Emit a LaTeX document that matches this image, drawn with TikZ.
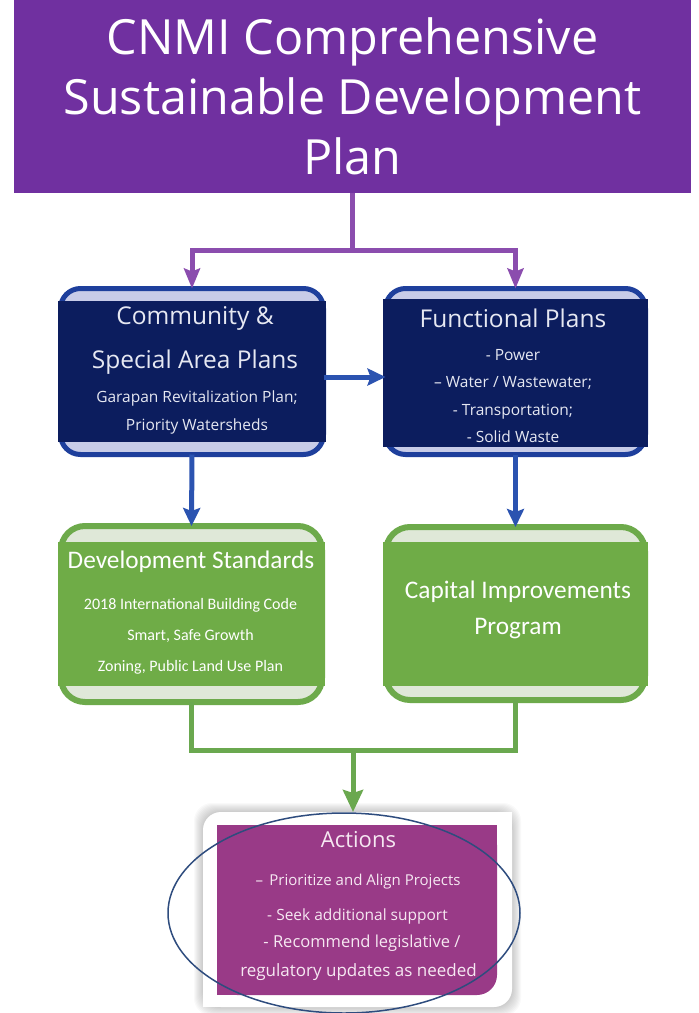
\documentclass[tikz,border=0pt]{standalone}
\usepackage{fontspec}
\setmainfont{Open Sans}
\newfontfamily\carl{Carlito}
\usetikzlibrary{arrows.meta,shapes.geometric}
\definecolor{titlepurple}{HTML}{7030A0}
\definecolor{connpurple}{HTML}{8B4DAE}
\definecolor{bluebord}{HTML}{1E3F9C}
\definecolor{navyfill}{HTML}{0C1D5E}
\definecolor{lavband}{HTML}{C8CCE8}
\definecolor{bluearrow}{HTML}{2B53B0}
\definecolor{greenbord}{HTML}{6DAA4B}
\definecolor{greenfill}{HTML}{6FAC47}
\definecolor{greenband}{HTML}{DFE8D8}
\definecolor{greenconn}{HTML}{6AA84F}
\definecolor{actpurple}{HTML}{993A87}
\definecolor{ellcol}{HTML}{2E4C7E}
\definecolor{bluetext}{HTML}{E6E8F2}
\definecolor{acttext}{HTML}{F6E8F2}
\begin{document}
\begin{tikzpicture}[x=1pt,y=-1pt,
  every node/.style={inner sep=0pt,outer sep=0pt},
  purp/.style={draw=connpurple,line width=5pt,line join=miter},
  purptip/.style={-{Stealth[length=20pt,width=16pt,inset=3pt]}},
  bluearr/.style={draw=bluearrow,line width=5pt,-{Stealth[length=18pt,width=17pt,inset=3pt]}},
  grn/.style={draw=greenconn,line width=5pt,line join=miter},
  grntip/.style={-{Stealth[length=22pt,width=20pt,inset=3pt]}},
  bluebox/.style={draw=bluebord,line width=5pt,fill=lavband,rounded corners=20pt},
  greenbox/.style={draw=greenbord,line width=6pt,fill=greenband,rounded corners=24pt},
  bhead/.style={text=bluetext,align=center,font=\fontsize{24.5}{44}\selectfont},
  bsub/.style={text=bluetext,align=center,font=\fontsize{15.5}{27.3}\selectfont},
  ghead/.style={text=white,align=center,font=\carl\fontsize{25.3}{36}\selectfont},
  gsub/.style={text=white,align=center,font=\carl\fontsize{16}{31}\selectfont},
  atext/.style={text=acttext,align=center}
]
\useasboundingbox (0,0) rectangle (699,1013);

% title
\node[fill=titlepurple,minimum width=677pt,minimum height=193pt,text=white,align=center,
  font=\fontsize{48.5}{60}\selectfont] (title) at (352.5,96.5)
  {CNMI Comprehensive\\Sustainable Development\\Plan};

% blue boxes
\node[bluebox,minimum width=263pt,minimum height=166pt] (csp) at (192,371.5) {};
\fill[navyfill] ([xshift=-2.5pt,yshift=-12.5pt]csp.north west) rectangle ([xshift=2.5pt,yshift=12.5pt]csp.south east);
\node[bluebox,minimum width=260pt,minimum height=166pt] (fun) at (515.5,371.5) {};
\fill[navyfill] ([xshift=-2.5pt,yshift=-10pt]fun.north west) rectangle ([xshift=2.5pt,yshift=8pt]fun.south east);

\node[bhead] (csph) at (195,340) {Community \&\\Special Area Plans};
\node[bsub] (csps) at (197,412.5) {Garapan Revitalization Plan;\\Priority Watersheds};
\node[bhead] (funh) at (513,318) {Functional Plans};
\node[bsub] (funs) at (513,396) {- Power\\– Water / Wastewater;\\- Transportation;\\- Solid Waste};

% green boxes
\node[greenbox,minimum width=261pt,minimum height=176pt] (dev) at (191.5,614) {};
\fill[greenfill] ([xshift=-3pt,yshift=-16pt]dev.north west) rectangle ([xshift=3pt,yshift=16pt]dev.south east);
\node[greenbox,minimum width=259pt,minimum height=173pt] (cip) at (515.5,613.5) {};
\fill[greenfill] ([xshift=-3pt,yshift=-15pt]cip.north west) rectangle ([xshift=3pt,yshift=14pt]cip.south east);

\node[ghead] (devh) at (191,562) {Development Standards};
\node[gsub] (devs) at (190.5,636) {2018 International Building Code\\Smart, Safe Growth\\Zoning, Public Land Use Plan};
\node[ghead] (ciph) at (518,610) {Capital Improvements\\Program};

% actions card
\node[minimum width=309pt,minimum height=195pt] (card) at (357.5,909.5) {};
\foreach \i in {1,...,9}
  \fill[black,opacity=0.022,rounded corners=18pt] ([xshift=-\i pt,yshift=-\i pt]card.south west) rectangle ([xshift=\i pt,yshift=\i pt]card.north east);
\fill[white,rounded corners=18pt] (card.south west) rectangle (card.north east);
\fill[white] ([xshift=-20pt]card.north east) rectangle ([yshift=-20pt]card.north east);
\fill[white] (card.south west) rectangle ([xshift=20pt,yshift=20pt]card.south west);

\node[minimum width=280pt,minimum height=170pt] (act) at (357,910) {};
\fill[actpurple,rounded corners=20pt] (act.south west) rectangle (act.north east);
\fill[actpurple] (act.north west) rectangle (act.east);
\fill[actpurple] (act.west) rectangle (act.south);

\node[atext,font=\fontsize{22}{24}\selectfont] (a0) at (358.5,840) {Actions};
\node[atext,font=\fontsize{15}{18}\selectfont] (a1) at (358,882) {–\, Prioritize and Align Projects};
\node[atext,font=\fontsize{15.5}{18}\selectfont] (a2) at (357.5,916) {- Seek additional support};
\node[atext,font=\fontsize{16.5}{20}\selectfont] (a3) at (362,943) {- Recommend legislative /};
\node[atext,font=\fontsize{17}{20}\selectfont] (a4) at (358.5,972) {regulatory updates as needed};

% connectors
\coordinate (pj) at (352.5,250);
\draw[purp] (title.south) -- (title.south |- pj);
\draw[purp,purptip] (pj) -| (csp.north);
\draw[purp,purptip] (pj) -| (fun.north);

\draw[bluearr] ([yshift=-5.5pt]csp.east) -- ([yshift=-5.5pt]fun.west);
\draw[bluearr] (csp.south) -- (dev.north);
\draw[bluearr] (fun.south) -- (cip.north);

\coordinate (gj) at (353,750);
\draw[grn] (dev.south) |- (gj) -| (cip.south);
\draw[grn,grntip] (gj) -- (gj |- card.north);

% ellipse
\node[draw=ellcol,line width=1.5pt,ellipse,minimum width=352pt,minimum height=200pt] (ring) at (344,913) {};
\end{tikzpicture}
\end{document}
